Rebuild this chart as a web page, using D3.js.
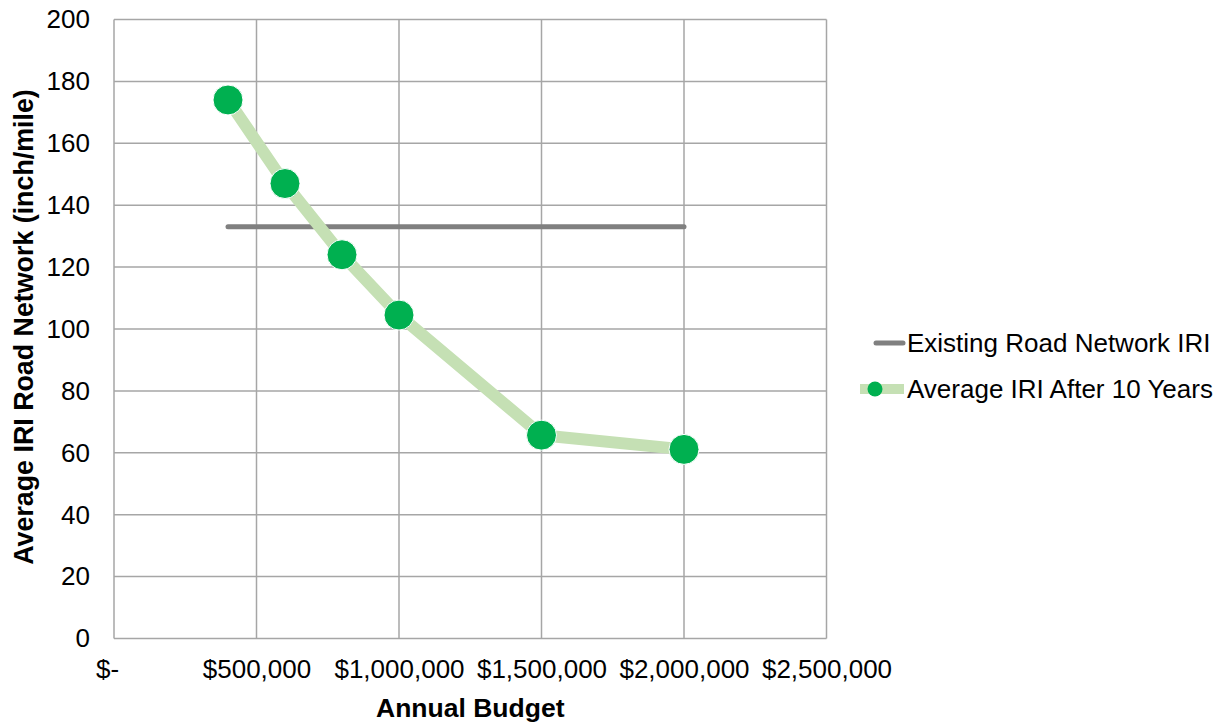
<!DOCTYPE html>
<html><head><meta charset="utf-8">
<script src="https://cdn.jsdelivr.net/npm/d3@7"></script>
<style>
html,body{margin:0;padding:0;background:#fff;}
svg text{font-family:"Liberation Sans",Arial,sans-serif;fill:#000;}
</style></head>
<body>
<svg id="chart" width="1231" height="723"></svg>
<script>
const budgets = [400000, 600000, 800000, 1000000, 1500000, 2000000];
const avgIRI10 = [174, 147, 124, 104.5, 65.7, 61.1];
const existingIRI = [133, 133, 133, 133, 133, 133];
const xTicks = [0, 500000, 1000000, 1500000, 2000000, 2500000];
const yTicks = [0, 20, 40, 60, 80, 100, 120, 140, 160, 180, 200];
const seriesNames = ["Existing Road Network IRI", "Average IRI After 10 Years"];

const svg = d3.select("#chart");
const L = 114, R = 826.5, T = 19.5, B = 638.5;
const x = d3.scaleLinear().domain([0, 2500000]).range([L, R]);
const y = d3.scaleLinear().domain([0, 200]).range([B, T]);
const fmt = d => d === 0 ? "$-" : "$" + d3.format(",")(d);
const gridColor = "#a6a6a6";

// grid
svg.append("g").selectAll("line").data(yTicks).join("line")
  .attr("x1", L).attr("x2", R).attr("y1", d => y(d)).attr("y2", d => y(d))
  .attr("stroke", gridColor).attr("stroke-width", 1.5);
svg.append("g").selectAll("line").data(xTicks).join("line")
  .attr("y1", T).attr("y2", B).attr("x1", d => x(d)).attr("x2", d => x(d))
  .attr("stroke", gridColor).attr("stroke-width", 1.5);

// axes
const xAxis = svg.append("g").attr("transform", `translate(0,${B})`)
  .call(d3.axisBottom(x).tickValues(xTicks).tickFormat(fmt).tickSize(0).tickPadding(21));
xAxis.select(".domain").remove();
xAxis.selectAll("text").attr("font-size", 26).attr("font-family", "Liberation Sans, Arial, sans-serif")
  .attr("dx", d => d === 0 ? -7 : 0);
const yAxis = svg.append("g").attr("transform", `translate(${L},0)`)
  .call(d3.axisLeft(y).tickValues(yTicks).tickSize(0).tickPadding(24));
yAxis.select(".domain").remove();
yAxis.selectAll("text").attr("font-size", 26).attr("font-family", "Liberation Sans, Arial, sans-serif");

// titles
svg.append("text").attr("x", (L + R) / 2).attr("y", 717).attr("text-anchor", "middle")
  .attr("font-size", 26.5).attr("font-weight", "bold").text("Annual Budget");
svg.append("text").attr("transform", `translate(33,327) rotate(-90)`)
  .attr("text-anchor", "middle").attr("font-size", 26.8).attr("font-weight", "bold")
  .text("Average IRI Road Network (inch/mile)");

// series
const line = d3.line().x((d, i) => x(budgets[i])).y(d => y(d));
svg.append("path").datum(existingIRI).attr("d", line).attr("fill", "none")
  .attr("stroke", "#808080").attr("stroke-width", 5).attr("stroke-linecap", "round");
svg.append("path").datum(avgIRI10).attr("d", line).attr("fill", "none")
  .attr("stroke", "#c5e0b4").attr("stroke-width", 12).attr("stroke-linejoin", "round");
svg.append("g").selectAll("circle").data(avgIRI10).join("circle")
  .attr("cx", (d, i) => x(budgets[i])).attr("cy", d => y(d)).attr("r", 15)
  .attr("fill", "#00b050").attr("stroke", "#ffffff").attr("stroke-width", 1);

// legend
const lg = svg.append("g");
lg.append("line").attr("x1", 876).attr("x2", 903).attr("y1", 343).attr("y2", 343)
  .attr("stroke", "#808080").attr("stroke-width", 5).attr("stroke-linecap", "round");
lg.append("text").attr("x", 907).attr("y", 343).attr("dy", "0.35em").attr("font-size", 26).text(seriesNames[0]);
lg.append("line").attr("x1", 860).attr("x2", 904).attr("y1", 389).attr("y2", 389)
  .attr("stroke", "#c5e0b4").attr("stroke-width", 10);
lg.append("circle").attr("cx", 875).attr("cy", 389).attr("r", 7.5).attr("fill", "#00b050");
lg.append("text").attr("x", 907).attr("y", 389).attr("dy", "0.35em").attr("font-size", 26).text(seriesNames[1]);
</script>
</body></html>
